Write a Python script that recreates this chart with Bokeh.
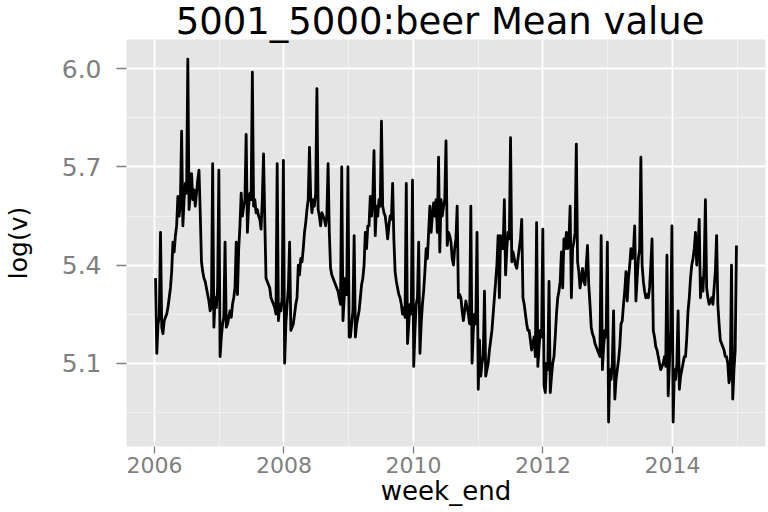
import pandas as pd
from bokeh.plotting import figure
from bokeh.models import FixedTicker, DatetimeTickFormatter, PrintfTickFormatter, Range1d, ColumnDataSource
from bokeh.embed import file_html
from bokeh.resources import INLINE

# weekly log(mean value), one list per year (weeks ending on Saturdays, first Saturday of Jan onward)
y2006 = [5.36, 5.13, 5.22, 5.24, 5.50, 5.21, 5.19, 5.23, 5.24, 5.25, 5.27, 5.30, 5.33, 5.38, 5.47, 5.44,
         5.49, 5.52, 5.61, 5.55, 5.59, 5.81, 5.52, 5.60, 5.65, 5.62, 6.03, 5.57, 5.62, 5.68, 5.60, 5.63,
         5.58, 5.62, 5.66, 5.69, 5.56, 5.41, 5.38, 5.36, 5.35, 5.33, 5.31, 5.29, 5.26, 5.27, 5.71, 5.21,
         5.30, 5.27, 5.33, 5.69]
y2007 = [5.12, 5.18, 5.22, 5.24, 5.47, 5.21, 5.22, 5.24, 5.26, 5.24, 5.28, 5.30, 5.33, 5.47, 5.31, 5.45,
         5.52, 5.62, 5.55, 5.58, 5.60, 5.80, 5.50, 5.58, 5.62, 5.60, 5.99, 5.58, 5.60, 5.56, 5.57, 5.55,
         5.54, 5.51, 5.60, 5.74, 5.54, 5.36, 5.35, 5.34, 5.33, 5.30, 5.29, 5.28, 5.27, 5.25, 5.71, 5.23,
         5.28, 5.26, 5.30, 5.72]
y2008 = [5.10, 5.22, 5.28, 5.33, 5.47, 5.20, 5.21, 5.22, 5.25, 5.28, 5.30, 5.40, 5.37, 5.42, 5.41, 5.45,
         5.50, 5.53, 5.57, 5.60, 5.76, 5.61, 5.56, 5.60, 5.58, 5.62, 5.94, 5.57, 5.55, 5.52, 5.56, 5.55,
         5.54, 5.52, 5.55, 5.71, 5.50, 5.39, 5.37, 5.36, 5.35, 5.34, 5.33, 5.32, 5.30, 5.28, 5.70, 5.23,
         5.30, 5.36, 5.31, 5.70]
y2009 = [5.18, 5.18, 5.22, 5.26, 5.49, 5.18, 5.22, 5.24, 5.26, 5.30, 5.34, 5.36, 5.40, 5.50, 5.45, 5.52,
         5.52, 5.61, 5.55, 5.60, 5.75, 5.49, 5.58, 5.55, 5.60, 5.58, 5.84, 5.58, 5.56, 5.55, 5.52, 5.48,
         5.52, 5.55, 5.54, 5.65, 5.48, 5.38, 5.35, 5.33, 5.31, 5.30, 5.28, 5.25, 5.27, 5.24, 5.65, 5.16,
         5.22, 5.28, 5.25, 5.66]
y2010 = [5.09, 5.20, 5.28, 5.30, 5.47, 5.13, 5.22, 5.28, 5.32, 5.38, 5.45, 5.42, 5.50, 5.58, 5.50, 5.55,
         5.59, 5.55, 5.60, 5.50, 5.73, 5.44, 5.60, 5.55, 5.58, 5.60, 5.78, 5.46, 5.50, 5.49, 5.47, 5.42,
         5.40, 5.45, 5.48, 5.58, 5.30, 5.31, 5.30, 5.26, 5.23, 5.26, 5.29, 5.27, 5.25, 5.22, 5.58, 5.10,
         5.20, 5.25, 5.22, 5.50]
y2011 = [5.02, 5.17, 5.06, 5.10, 5.12, 5.32, 5.06, 5.08, 5.10, 5.14, 5.17, 5.20, 5.25, 5.30, 5.35, 5.40,
         5.49, 5.30, 5.49, 5.45, 5.45, 5.60, 5.37, 5.45, 5.50, 5.48, 5.79, 5.41, 5.44, 5.42, 5.40, 5.39,
         5.42, 5.45, 5.48, 5.54, 5.30, 5.28, 5.25, 5.22, 5.20, 5.20, 5.17, 5.14, 5.16, 5.18, 5.12, 5.53,
         5.09, 5.15, 5.20, 5.18, 5.51]
y2012 = [5.03, 5.01, 5.10, 5.08, 5.35, 5.01, 5.06, 5.10, 5.12, 5.18, 5.25, 5.30, 5.32, 5.35, 5.44, 5.33,
         5.48, 5.45, 5.50, 5.45, 5.47, 5.58, 5.30, 5.45, 5.47, 5.50, 5.77, 5.41, 5.38, 5.33, 5.36, 5.39,
         5.35, 5.34, 5.40, 5.46, 5.34, 5.28, 5.21, 5.19, 5.18, 5.16, 5.15, 5.14, 5.13, 5.12, 5.49, 5.08,
         5.15, 5.20, 5.18, 5.47]
y2013 = [4.92, 5.08, 5.05, 5.10, 5.26, 4.99, 5.05, 5.08, 5.11, 5.15, 5.22, 5.23, 5.28, 5.32, 5.38, 5.29,
         5.36, 5.40, 5.45, 5.42, 5.44, 5.52, 5.29, 5.36, 5.42, 5.45, 5.73, 5.40, 5.35, 5.32, 5.30, 5.31,
         5.30, 5.33, 5.40, 5.48, 5.20, 5.18, 5.15, 5.14, 5.12, 5.10, 5.08, 5.09, 5.10, 5.12, 5.09, 5.43,
         5.00, 5.10, 5.20, 5.52]
y2014 = [4.92, 5.08, 5.05, 5.10, 5.26, 5.02, 5.06, 5.08, 5.10, 5.12, 5.12, 5.18, 5.26, 5.30, 5.36, 5.40,
         5.42, 5.45, 5.50, 5.40, 5.45, 5.54, 5.30, 5.36, 5.32, 5.40, 5.60, 5.33, 5.30, 5.28, 5.29, 5.30,
         5.28, 5.33, 5.38, 5.49, 5.28, 5.22, 5.17, 5.16, 5.15, 5.14, 5.12, 5.12, 5.10, 5.04, 5.06, 5.40,
         4.99, 5.08, 5.14, 5.46]

first_week_end = "2006-01-07"
x_tick_years = [2006, 2008, 2010, 2012, 2014]
x_minor_years = [2007, 2009, 2011, 2013, 2015]
y_ticks = [5.1, 5.4, 5.7, 6.0]
y_minor = [4.95, 5.25, 5.55, 5.85]
title_text = "5001_5000:beer  Mean value"

values = y2006 + y2007 + y2008 + y2009 + y2010 + y2011 + y2012 + y2013 + y2014
dates = pd.date_range(first_week_end, periods=len(values), freq="7D")
src = ColumnDataSource(dict(week_end=dates, v=values))

span = dates[-1] - dates[0]
x_range = Range1d(dates[0] - span * 0.05, dates[-1] + span * 0.05)
y_range = Range1d(4.845, 6.09)

FONT = "DejaVu Sans"
GREY_TXT = "#7F7F7F"

p = figure(width=768, height=512, x_axis_type="datetime", x_range=x_range, y_range=y_range,
           output_backend="svg", toolbar_location=None, title=title_text,
           min_border_left=125, min_border_right=3, min_border_top=38, min_border_bottom=66)

p.line("week_end", "v", source=src, line_color="black", line_width=2.8, line_join="round")

def ms(y):
    return pd.Timestamp(f"{y}-01-01").value // 10**6

xt = FixedTicker(ticks=[ms(y) for y in x_tick_years], minor_ticks=[ms(y) for y in x_minor_years])
yt = FixedTicker(ticks=y_ticks, minor_ticks=y_minor)
p.xaxis.ticker = xt
p.xgrid.ticker = xt
p.yaxis.ticker = yt
p.ygrid.ticker = yt
fmt = "%Y"
p.xaxis.formatter = DatetimeTickFormatter(milliseconds=fmt, seconds=fmt, minsec=fmt, minutes=fmt,
                                          hourmin=fmt, hours=fmt, days=fmt, months=fmt, years=fmt)
p.yaxis.formatter = PrintfTickFormatter(format="%.1f")

p.background_fill_color = "#E5E5E5"
p.border_fill_color = "white"
p.outline_line_color = None

for g in (p.xgrid, p.ygrid):
    g.grid_line_color = "white"
    g.grid_line_width = 1.8
    g.minor_grid_line_color = "#F2F2F2"
    g.minor_grid_line_width = 0.9

for ax in (p.xaxis, p.yaxis):
    ax.axis_line_color = None
    ax.major_tick_line_color = GREY_TXT
    ax.major_tick_line_width = 1.3
    ax.major_tick_in = 0
    ax.minor_tick_line_color = None
    ax.major_label_text_color = GREY_TXT
    ax.major_label_text_font = FONT
    ax.axis_label_text_font = FONT
    ax.axis_label_text_font_style = "normal"
    ax.axis_label_text_color = "black"

p.xaxis.major_label_text_font_size = "22px"
p.yaxis.major_label_text_font_size = "25px"
p.xaxis.axis_label_text_font_size = "26px"
p.yaxis.axis_label_text_font_size = "25px"
p.xaxis.axis_label = "week_end"
p.yaxis.axis_label = "log(v)"
p.xaxis.major_tick_out = 7
p.yaxis.major_tick_out = 10
p.xaxis.major_label_standoff = 3
p.yaxis.major_label_standoff = 15
p.xaxis.axis_label_standoff = 0
p.yaxis.axis_label_standoff = 26

p.title.text_font = FONT
p.title.text_font_size = "37px"
p.title.text_font_style = "normal"
p.title.text_color = "black"
p.title.align = "center"
p.title.standoff = -6

open("out.html", "w").write(file_html(p, INLINE))
